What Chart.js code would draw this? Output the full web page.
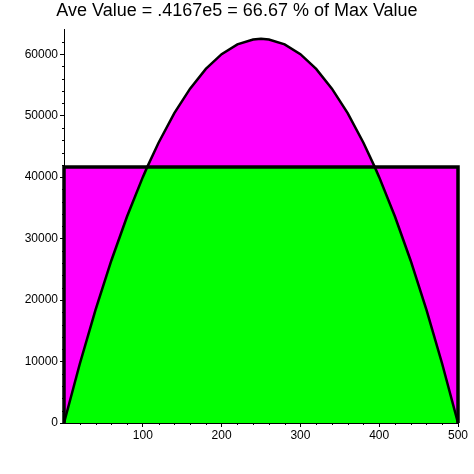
<!DOCTYPE html>
<html>
<head>
    <title>Ave Value</title>
    <script src="https://cdn.jsdelivr.net/npm/chart.js"></script>
    <style>
        html, body { margin: 0; padding: 0; background: #fff; }
        #wrap { width: 474px; height: 474px; }
    </style>
</head>
<body>
<div id="wrap"><canvas id="myChart" width="474" height="474"></canvas></div>
<script>
// values
var xValues     = [0, 20, 40, 60, 80, 100, 105.7, 120, 140, 160, 180, 200, 220, 240, 250,
                   260, 280, 300, 320, 340, 360, 380, 394.3, 400, 420, 440, 460, 480, 500];
var curveValues = [0, 9600, 18400, 26400, 33600, 40000, 41667, 45600, 50400, 54400, 57600, 60000, 61600, 62400, 62500,
                   62400, 61600, 60000, 57600, 54400, 50400, 45600, 41667, 40000, 33600, 26400, 18400, 9600, 0];
var aveValue = 41667;
var rectX = [0, 0, 500, 500];
var rectY = [0, aveValue, aveValue, 0];

var xTicks = [100, 200, 300, 400, 500];
var yTicks = [0, 10000, 20000, 30000, 40000, 50000, 60000];
var titleText = 'Ave Value = .4167e5 = 66.67 % of Max Value';

var green = '#00ff00';
var magenta = '#ff00ff';

function pts(xs, ys) {
    return xs.map(function(x, i) { return {x: x, y: ys[i]}; });
}

// top of filled shapes: upper one magenta, lower one green
var upper = curveValues.map(function(v) { return Math.max(v, aveValue); });
var lower = curveValues.map(function(v) { return Math.min(v, aveValue); });

// small ticks between the labelled ones
var minorTicks = {
    id: 'minorTicks',
    afterDraw: function(chart) {
        var ctx = chart.ctx;
        var xs = chart.scales.x, ys = chart.scales.y;
        ctx.save();
        ctx.strokeStyle = '#000';
        ctx.lineWidth = 1;
        ctx.beginPath();
        for (var v = 20; v < 500; v += 20) {
            if (v % 100 === 0) continue;
            var px = Math.round(xs.getPixelForValue(v)) + 0.5;
            ctx.moveTo(px, ys.bottom);
            ctx.lineTo(px, ys.bottom + 2);
        }
        for (var w = 2000; w < 64000; w += 2000) {
            if (w % 10000 === 0) continue;
            var py = Math.round(ys.getPixelForValue(w)) + 0.5;
            ctx.moveTo(xs.left - 2, py);
            ctx.lineTo(xs.left, py);
        }
        ctx.stroke();
        ctx.restore();
    }
};

var lineOpts = {pointRadius: 0, tension: 0, fill: false, clip: false, backgroundColor: 'transparent'};

new Chart(document.getElementById('myChart').getContext('2d'), {
    type: 'line',
    data: {
        datasets: [
            Object.assign({data: pts(rectX, rectY), borderColor: '#000', borderWidth: 3.5,
                           borderJoinStyle: 'miter'}, lineOpts),
            Object.assign({data: pts(xValues, curveValues), borderColor: '#000', borderWidth: 2.5}, lineOpts),
            {data: pts(xValues, lower), pointRadius: 0, tension: 0, borderWidth: 0,
             backgroundColor: green, fill: 'origin'},
            {data: pts(xValues, upper), pointRadius: 0, tension: 0, borderWidth: 0,
             backgroundColor: magenta, fill: 'origin'}
        ]
    },
    options: {
        responsive: false,
        animation: false,
        devicePixelRatio: 1,
        layout: {padding: {left: 16, right: 16, top: 0, bottom: 0}},
        plugins: {
            legend: {display: false},
            tooltip: {enabled: false},
            title: {
                display: true,
                text: titleText,
                color: '#000',
                font: {family: 'Liberation Sans', size: 18, weight: 'normal'},
                padding: {top: 0, bottom: 8}
            }
        },
        scales: {
            x: {
                type: 'linear',
                min: 0,
                max: 500,
                afterBuildTicks: function(s) { s.ticks = xTicks.map(function(v) { return {value: v}; }); },
                afterFit: function(s) { s.height = 51; },
                grid: {drawOnChartArea: false, color: '#000', tickLength: 4},
                border: {color: '#000', width: 1},
                ticks: {color: '#000', padding: 1, maxRotation: 0,
                        font: {family: 'Liberation Sans', size: 12}}
            },
            y: {
                type: 'linear',
                min: 0,
                max: 64000,
                afterBuildTicks: function(s) { s.ticks = yTicks.map(function(v) { return {value: v}; }); },
                afterFit: function(s) { s.width = 48; },
                grid: {drawOnChartArea: false, color: '#000', tickLength: 4},
                border: {color: '#000', width: 1},
                ticks: {color: '#000', padding: 2,
                        font: {family: 'Liberation Sans', size: 12},
                        callback: function(v) { return String(v); }}
            }
        }
    },
    plugins: [minorTicks]
});
</script>
</body>
</html>
